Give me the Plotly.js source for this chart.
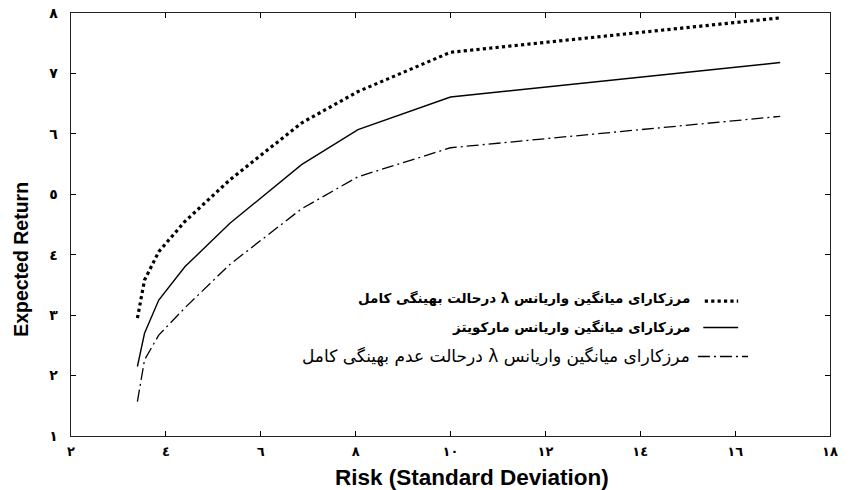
<!DOCTYPE html>
<html>
<head>
<meta charset="utf-8">
<script src="https://cdn.plot.ly/plotly-3.0.1.min.js"></script>
<style>
html,body{margin:0;padding:0;background:#fff;}
#chart{width:853px;height:490px;}
</style>
</head>
<body>
<div id="chart"></div>
<script>
// Data
const risk = [3.4, 3.55, 3.85, 4.4, 5.35, 6.86, 8.05, 10, 16.95];
const lambdaFull = [2.95, 3.58, 4.05, 4.55, 5.24, 6.18, 6.70, 7.35, 7.92];
const markowitz = [2.15, 2.70, 3.25, 3.80, 4.52, 5.49, 6.07, 6.61, 7.18];
const lambdaPartial = [1.57, 2.26, 2.67, 3.12, 3.84, 4.76, 5.29, 5.77, 6.29];

const seriesNames = [
  "مرزکارای میانگین واریانس λ درحالت بهینگی کامل",
  "مرزکارای میانگین واریانس مارکویتز",
  "مرزکارای میانگین واریانس λ درحالت عدم بهینگی کامل"
];

const xTickVals = [2, 4, 6, 8, 10, 12, 14, 16, 18];
const xTickText = ["٢", "٤", "٦", "٨", "١٠", "١٢", "١٤", "١٦", "١٨"];
const yTickVals = [1, 2, 3, 4, 5, 6, 7, 8];
const yTickText = ["١", "٢", "٣", "٤", "٥", "٦", "٧", "٨"];

const xTitle = "Risk (Standard Deviation)";
const yTitle = "Expected Return";

const dashDot = "12px,4px,2px,4px";

const traces = [
  {x: risk, y: lambdaFull, mode: "lines", name: seriesNames[0],
   line: {color: "#000", width: 3.2, dash: "dot"}},
  {x: risk, y: markowitz, mode: "lines", name: seriesNames[1],
   line: {color: "#000", width: 1.4}},
  {x: risk, y: lambdaPartial, mode: "lines", name: seriesNames[2],
   line: {color: "#000", width: 1.3, dash: dashDot}}
];

const rtl = s => "\u202B" + s + "\u202C";
const legendFont = "DejaVu Sans, Noto Sans, sans-serif";
const titleFont = "Liberation Sans, Arial, sans-serif";

const layout = {
  width: 853, height: 490,
  margin: {l: 71, r: 23, t: 13, b: 54},
  paper_bgcolor: "#fff", plot_bgcolor: "#fff",
  showlegend: false,
  font: {family: "DejaVu Sans, sans-serif", color: "#000"},
  xaxis: {
    range: [2, 18], tickvals: xTickVals, ticktext: xTickText,
    ticks: "inside", ticklen: 5, tickcolor: "#000", tickwidth: 1,
    showline: true, linecolor: "#222", linewidth: 1.3, mirror: "ticks",
    showgrid: false, zeroline: false, ticklabelstandoff: 3,
    tickfont: {family: "DejaVu Sans", size: 13, color: "#000", weight: "bold"}
  },
  yaxis: {
    range: [1, 8], tickvals: yTickVals, ticktext: yTickText,
    ticks: "inside", ticklen: 5, tickcolor: "#000", tickwidth: 1,
    showline: true, linecolor: "#222", linewidth: 1.3, mirror: "ticks",
    showgrid: false, zeroline: false, ticklabelstandoff: 9,
    tickfont: {family: "DejaVu Sans", size: 14, color: "#000", weight: "bold"}
  },
  annotations: [
    {xref: "paper", yref: "paper", x: 0.528, y: -0.0989, xanchor: "center", yanchor: "middle",
     showarrow: false, text: "<b>" + xTitle + "</b>",
     font: {family: titleFont, size: 22.5, color: "#000"}},
    {xref: "paper", yref: "paper", x: -0.065, y: 0.418, xanchor: "center", yanchor: "middle",
     showarrow: false, textangle: -90, text: "<b>" + yTitle + "</b>",
     font: {family: titleFont, size: 19.5, color: "#000"}},
    {xref: "paper", yref: "paper", x: 0.818, y: 0.326, xanchor: "right", yanchor: "middle",
     showarrow: false, text: "<b>" + rtl(seriesNames[0]) + "</b>",
     font: {family: legendFont, size: 13.5, color: "#000"}},
    {xref: "paper", yref: "paper", x: 0.818, y: 0.258, xanchor: "right", yanchor: "middle",
     showarrow: false, text: "<b>" + rtl(seriesNames[1]) + "</b>",
     font: {family: legendFont, size: 13.5, color: "#000"}},
    {xref: "paper", yref: "paper", x: 0.818, y: 0.188, xanchor: "right", yanchor: "middle",
     showarrow: false, text: rtl(seriesNames[2]),
     font: {family: legendFont, size: 17, color: "#000"}}
  ],
  shapes: [
    {type: "line", xref: "paper", yref: "paper", x0: 0.835, x1: 0.879, y0: 0.319, y1: 0.319,
     line: {color: "#000", width: 3.2, dash: "dot"}},
    {type: "line", xref: "paper", yref: "paper", x0: 0.833, x1: 0.879, y0: 0.2565, y1: 0.2565,
     line: {color: "#000", width: 1.4}},
    {type: "line", xref: "paper", yref: "paper", x0: 0.826, x1: 0.892, y0: 0.188, y1: 0.188,
     line: {color: "#000", width: 1.3, dash: dashDot}}
  ]
};

Plotly.newPlot("chart", traces, layout, {displayModeBar: false, staticPlot: true});
</script>
</body>
</html>
